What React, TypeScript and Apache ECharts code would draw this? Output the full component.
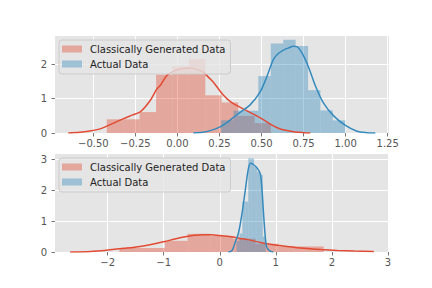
import React, { useEffect, useRef } from "react";
import * as echarts from "echarts";

const RED = "#E24A33";
const BLUE = "#348ABD";
const RED_FILL = "rgba(226,74,51,0.4)";
const BLUE_FILL = "rgba(52,138,189,0.4)";

const SERIES_A = "Classically Generated Data";
const SERIES_B = "Actual Data";

// ---------- top panel ----------
const topXTicks = [-0.5, -0.25, 0, 0.25, 0.5, 0.75, 1.0, 1.25];
const topYTicks = [0, 1, 2];

const topRedEdges = [-0.42, -0.322, -0.225, -0.127, -0.03, 0.068, 0.166, 0.263, 0.361, 0.459, 0.556];
const topRedHeights = [0.4, 0.4, 0.61, 1.7, 1.95, 2.15, 1.1, 0.89, 0.5, 0.29];

const topBlueEdges = [0.26, 0.334, 0.408, 0.481, 0.555, 0.629, 0.703, 0.777, 0.85, 0.924, 0.998];
const topBlueHeights = [0.37, 0.65, 0.65, 1.66, 2.61, 2.72, 2.54, 1.25, 0.66, 0.37];

const topRedKdeX = [-0.649, -0.58, -0.52, -0.46, -0.42, -0.37, -0.32, -0.27, -0.22, -0.163, -0.123, -0.1, -0.063, -0.024, 0.016, 0.075, 0.135, 0.155, 0.194, 0.214, 0.254, 0.274, 0.313, 0.354, 0.4, 0.451, 0.5, 0.552, 0.6, 0.651, 0.7, 0.75, 0.79];
const topRedKdeY = [0.0, 0.02, 0.06, 0.12, 0.2, 0.31, 0.42, 0.52, 0.62, 0.94, 1.28, 1.4, 1.68, 1.8, 1.87, 1.9, 1.82, 1.77, 1.58, 1.48, 1.22, 1.1, 0.92, 0.8, 0.68, 0.55, 0.42, 0.26, 0.14, 0.07, 0.03, 0.01, 0.0];

const topBlueKdeX = [0.095, 0.15, 0.195, 0.254, 0.294, 0.332, 0.373, 0.432, 0.492, 0.532, 0.571, 0.6, 0.631, 0.66, 0.69, 0.71, 0.73, 0.755, 0.78, 0.82, 0.869, 0.929, 0.999, 1.068, 1.127, 1.177];
const topBlueKdeY = [0.0, 0.02, 0.07, 0.18, 0.3, 0.45, 0.6, 0.82, 1.2, 1.65, 2.15, 2.32, 2.42, 2.48, 2.53, 2.52, 2.42, 2.2, 1.92, 1.38, 0.87, 0.5, 0.22, 0.05, 0.01, 0.0];

// ---------- bottom panel ----------
const botXTicks = [-2, -1, 0, 1, 2, 3];
const botYTicks = [0, 1, 2, 3];

const botRedEdges = [-1.79, -1.385, -0.98, -0.575, -0.17, 0.235, 0.64, 1.045, 1.45, 1.855];
const botRedHeights = [0.13, 0.13, 0.36, 0.59, 0.52, 0.43, 0.27, 0.18, 0.18];

const botBlueEdges = [0.3, 0.352, 0.404, 0.456, 0.508, 0.56, 0.612, 0.664, 0.716, 0.768, 0.82];
const botBlueHeights = [0.35, 0.6, 1.63, 1.63, 3.03, 3.03, 2.76, 2.6, 2.5, 0.5];

const botRedKdeX = [-2.67, -2.3, -2.02, -1.7, -1.42, -1.2, -0.98, -0.8, -0.59, -0.45, -0.29, -0.15, 0.0, 0.2, 0.36, 0.5, 0.72, 0.9, 1.2, 1.5, 1.8, 2.1, 2.4, 2.75];
const botRedKdeY = [0.0, 0.02, 0.06, 0.12, 0.18, 0.25, 0.34, 0.42, 0.5, 0.54, 0.56, 0.555, 0.53, 0.49, 0.44, 0.4, 0.31, 0.25, 0.18, 0.12, 0.08, 0.05, 0.03, 0.02];

const botBlueKdeX = [0.154, 0.22, 0.273, 0.332, 0.393, 0.452, 0.511, 0.554, 0.6, 0.661, 0.72, 0.75, 0.779, 0.809, 0.839, 0.898, 0.957];
const botBlueKdeY = [0.0, 0.05, 0.3, 0.6, 1.2, 1.95, 2.7, 2.87, 2.83, 2.73, 2.55, 2.1, 1.31, 0.56, 0.15, 0.03, 0.0];

const FONT = "DejaVu Sans";
const TICK = "#555555";

function fmtTop(v: number) {
  return v.toFixed(2).replace("-", "\u2212");
}
function fmtInt(v: number) {
  return String(Math.round(v)).replace("-", "\u2212");
}

function histSeries(name: string, edges: number[], heights: number[], fill: string, axisIndex: number) {
  const data = heights.map((h, i) => [edges[i], edges[i + 1], h]);
  return {
    type: "custom",
    name,
    xAxisIndex: axisIndex,
    yAxisIndex: axisIndex,
    data,
    encode: { x: [0, 1], y: 2 },
    itemStyle: { color: fill },
    clip: true,
    renderItem: (params: any, api: any) => {
      const p0 = api.coord([api.value(0), api.value(2)]);
      const p1 = api.coord([api.value(1), 0]);
      return {
        type: "rect",
        shape: { x: p0[0], y: p0[1], width: p1[0] - p0[0], height: p1[1] - p0[1] },
        style: { fill },
      };
    },
  };
}

function kdeSeries(name: string, xs: number[], ys: number[], color: string, axisIndex: number) {
  return {
    type: "line",
    name,
    xAxisIndex: axisIndex,
    yAxisIndex: axisIndex,
    data: xs.map((x, i) => [x, ys[i]]),
    showSymbol: false,
    smooth: 0.3,
    lineStyle: { color, width: 1.5 },
    itemStyle: { color },
  };
}

function xAxis(gridIndex: number, min: number, max: number, ticks: number[], fmt: (v: number) => string) {
  return {
    type: "value",
    gridIndex,
    min,
    max,
    axisLine: { show: false, onZero: false },
    axisTick: { show: true, length: 3.5, customValues: ticks, lineStyle: { color: TICK, width: 0.8 } },
    axisLabel: { customValues: ticks, formatter: fmt, color: TICK, fontSize: 10, fontFamily: FONT, margin: 5 },
    splitLine: { show: true, lineStyle: { color: "#FFFFFF", width: 1 } },
  };
}

function yAxis(gridIndex: number, max: number, ticks: number[]) {
  return {
    type: "value",
    gridIndex,
    min: 0,
    max,
    axisLine: { show: false, onZero: false },
    axisTick: { show: true, length: 3.5, customValues: ticks, lineStyle: { color: TICK, width: 0.8 } },
    axisLabel: { customValues: ticks, formatter: fmtInt, color: TICK, fontSize: 10, fontFamily: FONT, margin: 8 },
    splitLine: { show: true, lineStyle: { color: "#FFFFFF", width: 1 } },
  };
}

function legend(top: number) {
  return {
    left: 59,
    top,
    orient: "vertical",
    icon: "rect",
    itemWidth: 20,
    itemHeight: 7,
    itemGap: 3,
    padding: [3, 5, 4, 3],
    selectedMode: false,
    backgroundColor: "rgba(229,229,229,0.8)",
    borderColor: "#CCCCCC",
    borderWidth: 1,
    borderRadius: 3,
    textStyle: { fontSize: 10, fontFamily: FONT, color: "#222222", lineHeight: 12, padding: [0, 0, 0, 3] },
    data: [
      { name: SERIES_A, itemStyle: { color: RED_FILL } },
      { name: SERIES_B, itemStyle: { color: BLUE_FILL } },
    ],
  };
}

export default function App() {
  const ref = useRef<HTMLDivElement>(null);
  useEffect(() => {
    if (!ref.current) return;
    const chart = echarts.init(ref.current, null, { renderer: "svg" });
    chart.setOption({
      animation: false,
      backgroundColor: "#FFFFFF",
      grid: [
        { left: 55, top: 36, width: 334, height: 97, show: true, backgroundColor: "#E5E5E5", borderWidth: 0 },
        { left: 55, top: 154, width: 334, height: 98, show: true, backgroundColor: "#E5E5E5", borderWidth: 0 },
      ],
      xAxis: [
        xAxis(0, -0.728, 1.258, topXTicks, fmtTop),
        xAxis(1, -2.94, 3.02, botXTicks, fmtInt),
      ],
      yAxis: [yAxis(0, 2.83, topYTicks), yAxis(1, 3.17, botYTicks)],
      legend: [legend(40), legend(158)],
      series: [
        histSeries(SERIES_A, topRedEdges, topRedHeights, RED_FILL, 0),
        kdeSeries("kdeA0", topRedKdeX, topRedKdeY, RED, 0),
        histSeries(SERIES_B, topBlueEdges, topBlueHeights, BLUE_FILL, 0),
        kdeSeries("kdeB0", topBlueKdeX, topBlueKdeY, BLUE, 0),
        histSeries(SERIES_A, botRedEdges, botRedHeights, RED_FILL, 1),
        kdeSeries("kdeA1", botRedKdeX, botRedKdeY, RED, 1),
        histSeries(SERIES_B, botBlueEdges, botBlueHeights, BLUE_FILL, 1),
        kdeSeries("kdeB1", botBlueKdeX, botBlueKdeY, BLUE, 1),
      ],
    });
    return () => chart.dispose();
  }, []);
  return <div ref={ref} style={{ position: "fixed", left: 0, top: 0, width: 432, height: 288 }} />;
}
